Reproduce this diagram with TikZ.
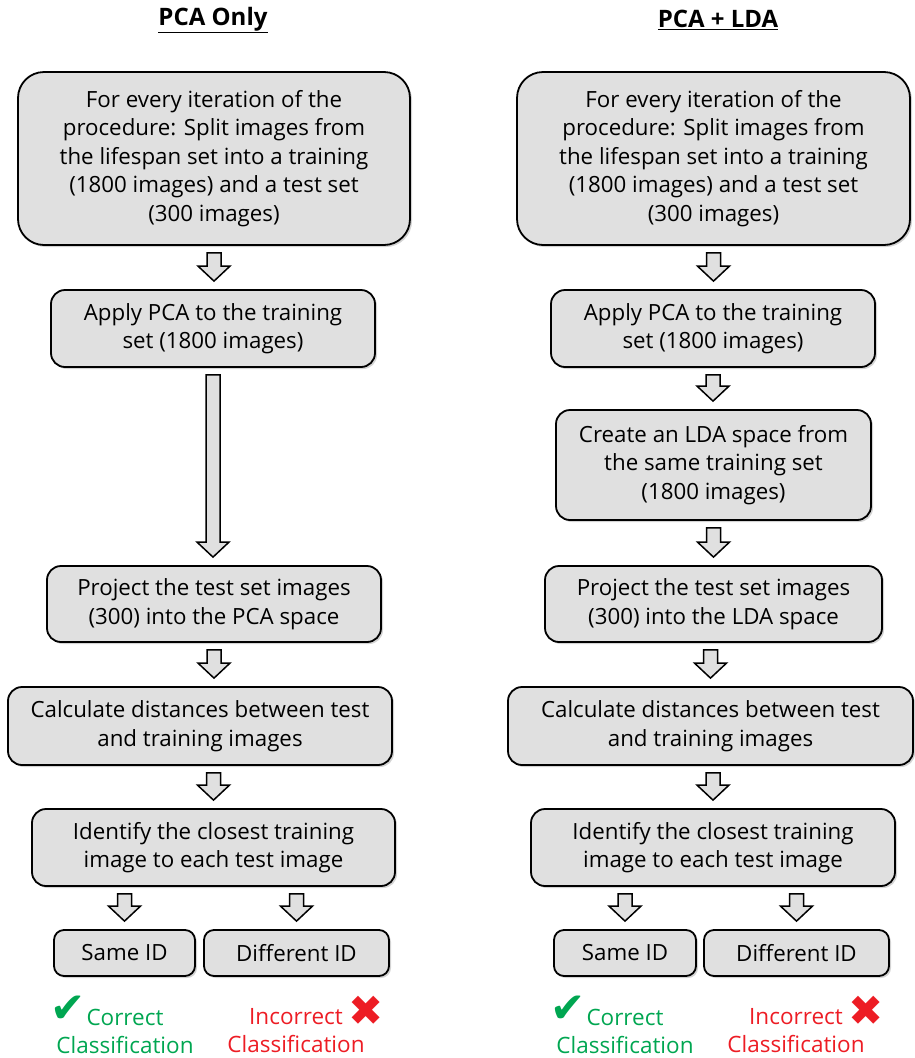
\documentclass[tikz,border=0pt]{standalone}
\usepackage{fontspec}
\setmainfont{Open Sans}
\newfontfamily\symfont{DejaVu Sans}
\usetikzlibrary{calc, shadows}
\usepackage{xcolor}
\definecolor{boxgray}{RGB}{224,224,224}
\definecolor{okgreen}{RGB}{0,166,81}
\definecolor{badred}{RGB}{237,28,36}

% hollow block arrow from one node down to the next
\newcommand{\flowarrow}[2]{%
  \draw[line width=1.5pt,fill=boxgray,line join=miter] let \p1=($(#1)+(0,-7)$), \p2=($(#2)+(0,8)$) in
    (\x1-7pt,\y1) -- (\x1+7pt,\y1) -- (\x1+7pt,\y2+15pt) -- (\x1+16pt,\y2+15pt) -- (\x1,\y2)
    -- (\x1-16pt,\y2+15pt) -- (\x1-7pt,\y2+15pt) -- cycle;}

\begin{document}
\begin{tikzpicture}[x=1pt,y=1pt,
  flowbox/.style={draw,line width=1.8pt,fill=boxgray,rounded corners=14pt,align=center,inner sep=0pt,
    font=\fontsize{22.3}{28.5}\selectfont,
    drop shadow={shadow xshift=2pt,shadow yshift=-2pt,opacity=.35}},
  coltitle/.style={font=\bfseries\fontsize{24}{28}\selectfont},
  verdict/.style={align=center,font=\fontsize{22.5}{28}\selectfont},
  verdictmark/.style={font=\symfont\fontsize{42}{42}\selectfont}]
  \useasboundingbox (0,0) rectangle (914,-1058);

  % PCA only
  \node[coltitle](ptitle) at(213,-20){\underline{PCA Only}};
  \node[flowbox,rounded corners=26pt,minimum width=392,minimum height=173](pinit) at(214,-158.5){For every iteration of the\\procedure: Split images from\\the lifespan set into a training\\(1800 images) and a test set\\(300 images)};
  \node[flowbox,minimum width=324,minimum height=77](papply) at(213,-328.5){Apply PCA to the training\\set (1800 images)};
  \node[flowbox,minimum width=334,minimum height=76](pproj) at(214,-604){Project the test set images\\(300) into the PCA space};
  \node[flowbox,minimum width=384,minimum height=78](pdist) at(200,-726){Calculate distances between test\\and training images};
  \node[flowbox,minimum width=363,minimum height=77](pclose) at(213.5,-847.5){Identify the closest training\\image to each test image};
  \node[flowbox,rounded corners=10pt,minimum width=141,minimum height=46](psame) at(124.5,-953){Same ID};
  \node[flowbox,rounded corners=10pt,minimum width=185,minimum height=46](pdiff) at(296.5,-953){Different ID};
  \node[verdict,text=okgreen](pok) at(125,-1031){Correct\\Classification};
  \node[verdict,text=badred](pbad) at(296,-1031){Incorrect\\Classification};
  \node[verdictmark,text=okgreen](pokmark) at(68,-1009){✔};
  \node[verdictmark,text=badred](pbadmark) at(366,-1011){✖};

  \flowarrow{pinit.south}{papply.north}
  \flowarrow{papply.south}{pproj.north}
  \flowarrow{pproj.south}{pdist.north -| pproj.south}
  \flowarrow{pdist.south -| pclose.north}{pclose.north}
  \flowarrow{pclose.south -| psame.north}{psame.north}
  \flowarrow{pclose.south -| pdiff.north}{pdiff.north}

  % PCA + LDA
  \node[coltitle](ltitle) at(718,-20){\underline{PCA + LDA}};
  \node[flowbox,rounded corners=26pt,minimum width=393,minimum height=173](linit) at(713.5,-158.5){For every iteration of the\\procedure: Split images from\\the lifespan set into a training\\(1800 images) and a test set\\(300 images)};
  \node[flowbox,minimum width=324,minimum height=77](lapply) at(713,-328.5){Apply PCA to the training\\set (1800 images)};
  \node[flowbox,minimum width=315,minimum height=110](llda) at(713.5,-465){Create an LDA space from\\the same training set\\(1800 images)};
  \node[flowbox,minimum width=337,minimum height=76](lproj) at(713.5,-604){Project the test set images\\(300) into the LDA space};
  \node[flowbox,minimum width=405,minimum height=78](ldist) at(710.5,-726){Calculate distances between test\\and training images};
  \node[flowbox,minimum width=364,minimum height=77](lclose) at(713,-847.5){Identify the closest training\\image to each test image};
  \node[flowbox,rounded corners=10pt,minimum width=142,minimum height=46](lsame) at(625,-953){Same ID};
  \node[flowbox,rounded corners=10pt,minimum width=185,minimum height=46](ldiff) at(796.5,-953){Different ID};
  \node[verdict,text=okgreen](lok) at(625,-1031){Correct\\Classification};
  \node[verdict,text=badred](lbad) at(796,-1031){Incorrect\\Classification};
  \node[verdictmark,text=okgreen](lokmark) at(568,-1009){✔};
  \node[verdictmark,text=badred](lbadmark) at(866,-1011){✖};

  \flowarrow{linit.south}{lapply.north}
  \flowarrow{lapply.south}{llda.north -| lapply.south}
  \flowarrow{llda.south -| lproj.north}{lproj.north}
  \flowarrow{lproj.south -| ldist.north}{ldist.north -| lproj.south}
  \flowarrow{ldist.south -| lclose.north}{lclose.north}
  \flowarrow{lclose.south -| lsame.north}{lsame.north}
  \flowarrow{lclose.south -| ldiff.north}{ldiff.north}
\end{tikzpicture}
\end{document}
